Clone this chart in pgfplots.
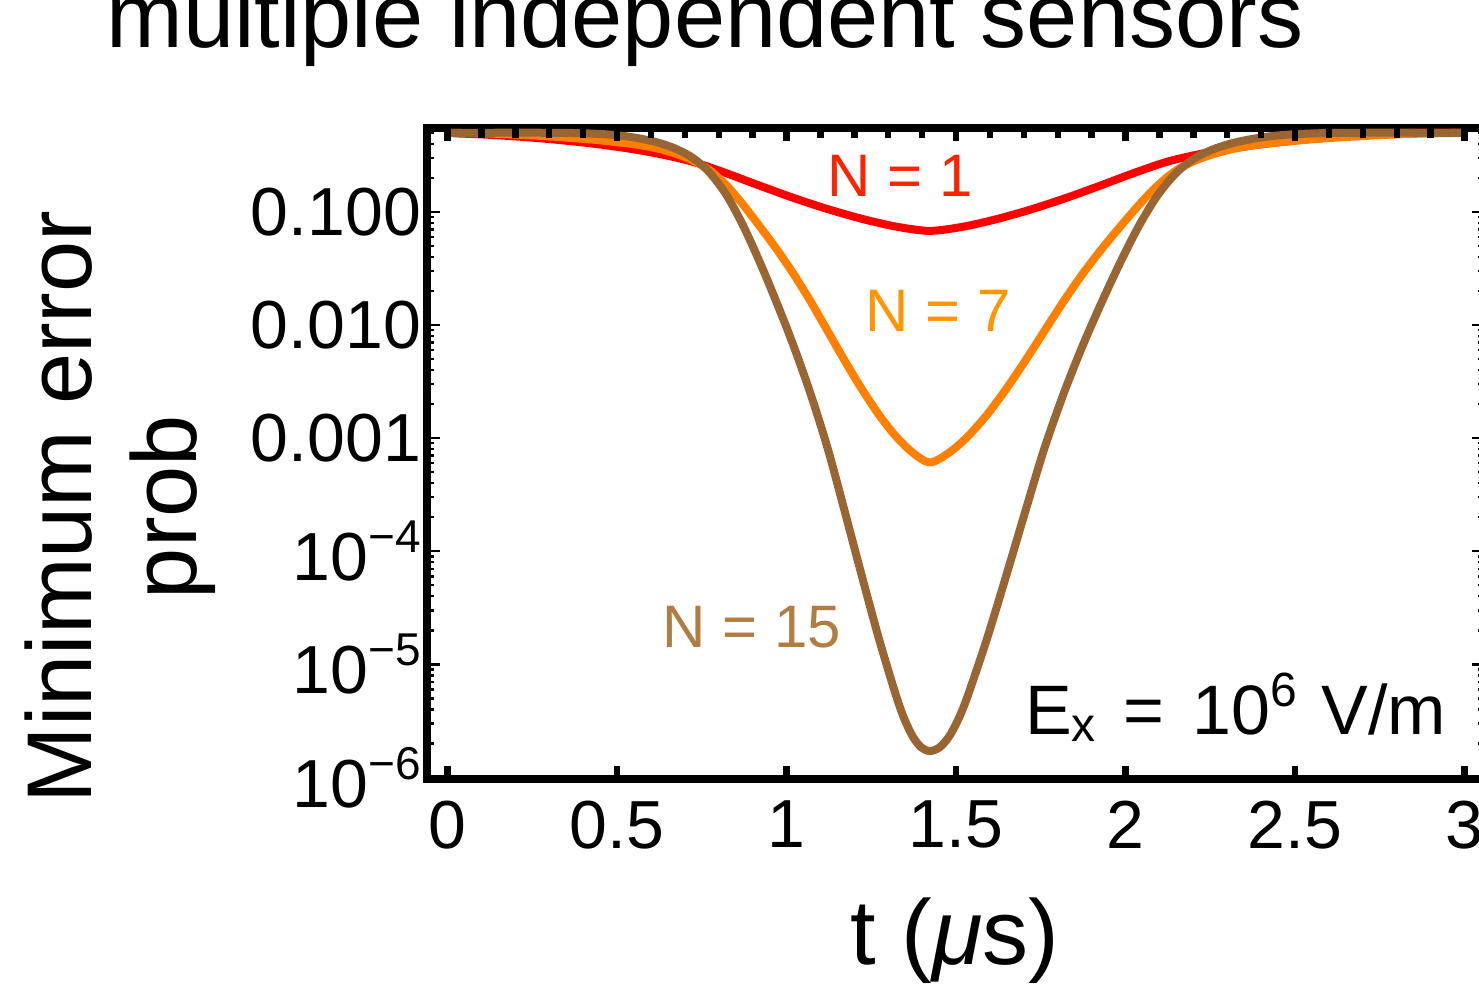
\documentclass[border=0pt]{standalone}
\usepackage{fontspec}
\setmainfont{Liberation Sans}
\usepackage{pgfplots}
\pgfplotsset{compat=1.18}
\definecolor{cRed}{RGB}{255,0,0}
\definecolor{cOrange}{RGB}{255,128,0}
\definecolor{cBrown}{RGB}{153,102,51}
\definecolor{lRed}{RGB}{255,34,0}
\definecolor{lOrange}{RGB}{255,150,0}
\definecolor{lBrown}{RGB}{176,125,66}
\newcommand\sups[1]{\raisebox{7pt}{\fontsize{11.5}{11.5}\selectfont #1}}
\begin{document}
\begin{tikzpicture}
\begin{axis}[at={(0,0)}, anchor=south west, scale only axis,
  width=264.5pt, height=162.75pt,
  xmin=-0.0605, xmax=3.0605, ymode=log, ymin=9.7e-7, ymax=0.551,
  axis line style={line width=2pt},
  tick align=inside,
  xtick={0,0.5,1,1.5,2,2.5,3}, xticklabels={0,0.5,1,1.5,2,2.5,3}, xtick pos=left,
  ytick={1e-6,1e-5,1e-4,1e-3,1e-2,1e-1},
  yticklabels={10\sups{−6},10\sups{−5},10\sups{−4},0.001,0.010,0.100},
  ytick pos=both,
  minor ytick={2e-6,3e-6,4e-6,5e-6,6e-6,7e-6,8e-6,9e-6,2e-5,3e-5,4e-5,5e-5,6e-5,7e-5,8e-5,9e-5,2e-4,3e-4,4e-4,5e-4,6e-4,7e-4,8e-4,9e-4,2e-3,3e-3,4e-3,5e-3,6e-3,7e-3,8e-3,9e-3,2e-2,3e-2,4e-2,5e-2,6e-2,7e-2,8e-2,9e-2,0.2,0.3,0.4,0.5},
  major tick length=3.25pt, minor tick length=1.75pt,
  xtick style={line width=1.6pt, black}, ytick style={line width=0.6pt, black},
  /pgf/number format/assume math mode=true,
  tick label style={font=\fontsize{17}{17}\selectfont},
  xticklabel style={yshift=-2pt},
  yticklabel style={xshift=2pt},
]
% N = 1
\addplot[cRed, line width=2pt, smooth, tension=0.5] coordinates {
(0,0.5)(0.023,0.4943)(0.123,0.4797)(0.223,0.4592)(0.323,0.4335)(0.423,0.4027)(0.523,0.3673)(0.623,0.3258)(0.723,0.2773)(0.823,0.2193)(0.923,0.1694)(1.023,0.1321)(1.123,0.1054)(1.223,0.0867)(1.323,0.0741)(1.423,0.0679)
(1.523,0.0741)(1.623,0.0867)(1.723,0.1054)(1.823,0.1321)(1.923,0.1694)(2.023,0.2193)(2.123,0.2773)(2.223,0.3258)(2.323,0.3673)(2.423,0.4027)(2.523,0.4335)(2.623,0.4592)(2.723,0.4797)(2.823,0.4943)(2.846,0.5)(3.0,0.5)
};
% N = 7
\addplot[cOrange, line width=2pt, smooth, tension=0.5] coordinates {
(0,0.5)(0.123,0.4920)(0.223,0.4786)(0.323,0.4592)(0.423,0.4365)(0.473,0.4207)(0.523,0.4055)(0.573,0.3864)(0.623,0.3606)(0.673,0.3266)(0.723,0.2844)(0.773,0.2339)(0.823,0.1714)(0.873,0.1146)(0.923,0.07311)(0.973,0.04581)(1.023,0.02761)(1.073,0.01578)(1.123,0.00867)(1.173,0.004764)(1.223,0.002692)(1.273,0.001603)(1.323,0.001035)(1.373,0.000741)(1.423,0.0006095)
(1.479,0.000741)(1.535,0.001035)(1.591,0.001603)(1.647,0.002692)(1.703,0.004764)(1.759,0.00867)(1.815,0.01578)(1.871,0.02761)(1.927,0.04581)(1.983,0.07311)(2.039,0.1146)(2.095,0.1714)(2.151,0.2339)(2.207,0.2844)(2.263,0.3266)(2.319,0.3606)(2.375,0.3864)(2.431,0.4055)(2.487,0.4207)(2.543,0.4365)(2.655,0.4592)(2.767,0.4786)(2.879,0.4920)(3.0,0.5)
};
% N = 15
\addplot[cBrown, line width=2pt, smooth, tension=0.5] coordinates {
(0,0.5)(0.323,0.5)(0.373,0.4977)(0.423,0.4920)(0.473,0.4831)(0.523,0.4667)(0.573,0.4416)(0.623,0.4074)(0.673,0.3614)(0.723,0.3006)(0.773,0.2228)(0.823,0.1406)(0.873,0.07464)(0.923,0.03491)(0.973,0.01524)(1.023,0.006281)(1.073,0.00236)(1.123,0.0007816)(1.173,0.0002178)(1.223,5.929e-5)(1.273,1.671e-5)(1.323,5.309e-6)(1.348,3.273e-6)(1.373,2.286e-6)(1.398,1.841e-6)(1.423,1.714e-6)
(1.451,1.841e-6)(1.479,2.286e-6)(1.507,3.273e-6)(1.535,5.309e-6)(1.591,1.671e-5)(1.647,5.929e-5)(1.703,0.0002178)(1.759,0.0007816)(1.815,0.00236)(1.871,0.006281)(1.927,0.01524)(1.983,0.03491)(2.039,0.07464)(2.095,0.1406)(2.151,0.2228)(2.207,0.3006)(2.263,0.3614)(2.319,0.4074)(2.375,0.4416)(2.431,0.4667)(2.487,0.4831)(2.543,0.4920)(2.599,0.4977)(2.655,0.5)(3.0,0.5)
};
\end{axis}
\begin{axis}[at={(0,0)}, anchor=south west, scale only axis,
  width=264.5pt, height=162.75pt,
  xmin=-0.0605, xmax=3.0605, ymode=log, ymin=9.7e-7, ymax=0.551,
  axis line style={draw=none}, ytick=\empty,
  xtick={0,0.5,1,1.5,2,2.5,3}, xticklabels={},
  minor xtick={0.1,0.2,0.3,0.4,0.6,0.7,0.8,0.9,1.1,1.2,1.3,1.4,1.6,1.7,1.8,1.9,2.1,2.2,2.3,2.4,2.6,2.7,2.8,2.9},
  xtick pos=right, tick align=inside,
  major tick length=3.25pt, minor tick length=2.5pt,
  xtick style={line width=1.6pt, black},
]
\end{axis}
\begin{scope}[x=0.25pt,y=-0.25pt,shift={(-106.75pt,194.75pt)}]
\node[anchor=base, font=\fontsize{23}{23}\selectfont, inner sep=0pt] at (705,48) {multiple independent sensors};
\node[rotate=90, anchor=base, font=\fontsize{23}{23}\selectfont, inner sep=0pt] at (92,507) {Minimum error};
\node[rotate=90, anchor=base, font=\fontsize{23}{23}\selectfont, inner sep=0pt] at (197,507) {prob};
\node[anchor=base, font=\fontsize{23}{23}\selectfont, inner sep=0pt] at (955,965) {t (\textit{μ}s)};
\node[anchor=base east, font=\fontsize{17.5}{17.5}\selectfont, inner sep=0pt] at (1447,735) {E\raisebox{-1.75pt}{\fontsize{12}{12}\selectfont x}\hspace{0.4em}=\hspace{0.4em}10\raisebox{7pt}{\fontsize{12}{12}\selectfont 6}\hspace{0.35em}V/m};
\node[anchor=base, font=\fontsize{15}{15}\selectfont, inner sep=0pt, text=lRed] at (900,197) {N = 1};
\node[anchor=base, font=\fontsize{15}{15}\selectfont, inner sep=0pt, text=lOrange] at (938,332) {N = 7};
\node[anchor=base, font=\fontsize{15}{15}\selectfont, inner sep=0pt, text=lBrown] at (752,648) {N = 15};
\pgfresetboundingbox
\path[use as bounding box] (0,0) rectangle (1479,984);
\end{scope}
\end{tikzpicture}
\end{document}
